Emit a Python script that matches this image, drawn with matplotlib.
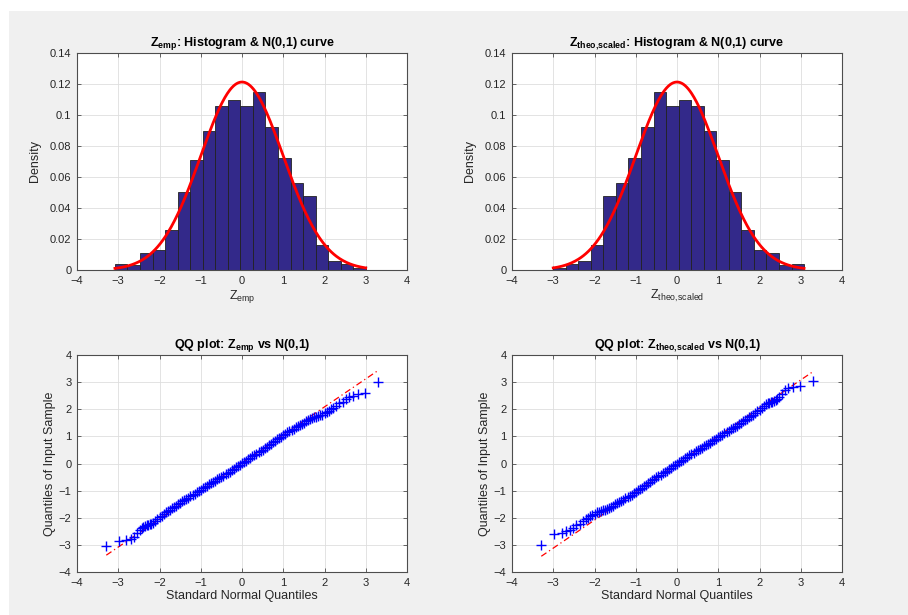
import numpy as np
import matplotlib
matplotlib.use('Agg')
import matplotlib.pyplot as plt
from matplotlib.patches import Rectangle

plt.rcParams['font.family'] = ['Liberation Sans', 'DejaVu Sans']
plt.rcParams['mathtext.fontset'] = 'custom'
plt.rcParams['mathtext.rm'] = 'Liberation Sans'
plt.rcParams['mathtext.it'] = 'Liberation Sans'
plt.rcParams['mathtext.bf'] = 'Liberation Sans:bold'

# histogramas (probabilidade por classe, 20 classes)
hist_emp_range = [-3.08, 3.00]
hist_emp = [0.004, 0.003, 0.011, 0.013, 0.026, 0.050, 0.071, 0.090, 0.106, 0.110,
            0.106, 0.115, 0.092, 0.072, 0.056, 0.048, 0.016, 0.006, 0.004, 0.001]
hist_theo_range = [-3.00, 3.08]
hist_theo = [0.001, 0.004, 0.006, 0.016, 0.048, 0.056, 0.072, 0.092, 0.115, 0.106,
             0.110, 0.106, 0.090, 0.071, 0.050, 0.026, 0.013, 0.011, 0.003, 0.004]

# QQ plot: quantis teoricos (x) e amostrais (y)
qq_emp_x = [-3.29, -2.97, -2.81, -2.70, -2.61, -2.54, -2.48, -2.43, -2.39, -2.35, -2.31, -2.27, -2.24, -2.20,
            -2.15, -2.10, -2.05, -2.00, -1.95, -1.90, -1.85, -1.80, -1.75, -1.70, -1.65, -1.60,
            -1.55, -1.50, -1.45, -1.40, -1.35, -1.30, -1.25, -1.20, -1.15, -1.10, -1.05, -1.00,
            -0.95, -0.90, -0.85, -0.80, -0.75, -0.70, -0.65, -0.60, -0.55, -0.50, -0.45, -0.40,
            -0.35, -0.30, -0.25, -0.20, -0.15, -0.10, -0.05, 0.00, 0.05, 0.10, 0.15, 0.20,
            0.25, 0.30, 0.35, 0.40, 0.45, 0.50, 0.55, 0.60, 0.65, 0.70, 0.75, 0.80,
            0.85, 0.90, 0.95, 1.00, 1.05, 1.10, 1.15, 1.20, 1.25, 1.30, 1.35, 1.40,
            1.45, 1.50, 1.55, 1.60, 1.65, 1.70, 1.75, 1.80, 1.85, 1.90, 1.95, 2.00, 2.05, 2.10, 2.15,
            2.20, 2.28, 2.36, 2.44, 2.52, 2.60, 2.68, 2.80, 2.97, 3.29]
qq_emp_y = [-3.05, -2.86, -2.83, -2.79, -2.70, -2.58, -2.45, -2.38, -2.33, -2.30, -2.28, -2.26, -2.24, -2.22,
            -2.18, -2.12, -2.06, -1.99, -1.92, -1.86, -1.80, -1.75, -1.70, -1.65, -1.60, -1.55,
            -1.50, -1.45, -1.40, -1.36, -1.31, -1.26, -1.21, -1.16, -1.11, -1.05, -1.00, -0.96,
            -0.92, -0.87, -0.82, -0.77, -0.72, -0.68, -0.63, -0.58, -0.54, -0.50, -0.45, -0.40,
            -0.35, -0.30, -0.25, -0.19, -0.14, -0.09, -0.04, 0.01, 0.06, 0.11, 0.16, 0.21,
            0.26, 0.31, 0.36, 0.41, 0.46, 0.51, 0.56, 0.62, 0.67, 0.73, 0.78, 0.84,
            0.89, 0.94, 0.99, 1.05, 1.10, 1.15, 1.19, 1.24, 1.28, 1.33, 1.37, 1.42,
            1.46, 1.51, 1.55, 1.59, 1.63, 1.67, 1.70, 1.72, 1.74, 1.77, 1.80, 1.85, 1.90, 1.95, 2.00,
            2.06, 2.12, 2.22, 2.28, 2.37, 2.44, 2.50, 2.56, 2.61, 2.99]
qq_theo_x = [-3.29, -2.97, -2.80, -2.68, -2.60, -2.52, -2.44, -2.36, -2.28, -2.20,
             -2.15, -2.10, -2.05, -2.00, -1.95, -1.90, -1.85, -1.80, -1.75, -1.70, -1.65, -1.60,
             -1.55, -1.50, -1.45, -1.40, -1.35, -1.30, -1.25, -1.20, -1.15, -1.10, -1.05, -1.00,
             -0.95, -0.90, -0.85, -0.80, -0.75, -0.70, -0.65, -0.60, -0.55, -0.50, -0.45, -0.40,
             -0.35, -0.30, -0.25, -0.20, -0.15, -0.10, -0.05, 0.00, 0.05, 0.10, 0.15, 0.20,
             0.25, 0.30, 0.35, 0.40, 0.45, 0.50, 0.55, 0.60, 0.65, 0.70, 0.75, 0.80,
             0.85, 0.90, 0.95, 1.00, 1.05, 1.10, 1.15, 1.20, 1.25, 1.30, 1.35, 1.40,
             1.45, 1.50, 1.55, 1.60, 1.65, 1.70, 1.75, 1.80, 1.85, 1.90, 1.95, 2.00, 2.05, 2.10, 2.15,
             2.20, 2.24, 2.27, 2.31, 2.35, 2.39, 2.43, 2.48, 2.54, 2.61, 2.70, 2.81, 2.97, 3.29]
qq_theo_y = [-2.99, -2.61, -2.56, -2.50, -2.44, -2.37, -2.28, -2.22, -2.12, -2.06,
             -2.00, -1.95, -1.90, -1.85, -1.80, -1.77, -1.74, -1.72, -1.70, -1.67, -1.63, -1.59,
             -1.55, -1.51, -1.46, -1.42, -1.37, -1.33, -1.28, -1.24, -1.19, -1.15, -1.10, -1.05,
             -0.99, -0.94, -0.89, -0.84, -0.78, -0.73, -0.67, -0.62, -0.56, -0.51, -0.46, -0.41,
             -0.36, -0.31, -0.26, -0.21, -0.16, -0.11, -0.06, -0.01, 0.04, 0.09, 0.14, 0.19,
             0.25, 0.30, 0.35, 0.40, 0.45, 0.50, 0.54, 0.58, 0.63, 0.68, 0.72, 0.77,
             0.82, 0.87, 0.92, 0.96, 1.00, 1.05, 1.11, 1.16, 1.21, 1.26, 1.31, 1.36,
             1.40, 1.45, 1.50, 1.55, 1.60, 1.65, 1.70, 1.75, 1.80, 1.86, 1.92, 1.99, 2.06, 2.12, 2.18,
             2.22, 2.24, 2.26, 2.28, 2.30, 2.33, 2.38, 2.45, 2.58, 2.70, 2.79, 2.83, 2.86, 3.05]
# linhas de referencia (quartis) estendidas
qq_emp_line = ([-3.29, 3.29], [-3.38, 3.42])
qq_theo_line = ([-3.29, 3.29], [-3.42, 3.38])

BAR_COLOR = '#33298a'
AX_COLOR = '#4d4d4d'
TXT_COLOR = '#262626'

fig = plt.figure(figsize=(9.08, 6.15), dpi=100, facecolor='white')
fig.add_artist(Rectangle((9 / 908, 0), 1, 1 - 11 / 615, transform=fig.transFigure,
                         facecolor='#f0f0f0', edgecolor='none', zorder=-10))

lefts = [77 / 908, 512 / 908]
bottoms = [1 - 270 / 615, 1 - 572 / 615]
w, h = 330 / 908, 217 / 615


def style(ax):
    ax.set_facecolor('white')
    ax.grid(True, color='#dedede', linewidth=0.6)
    ax.set_axisbelow(True)
    for s in ax.spines.values():
        s.set_color(AX_COLOR)
        s.set_linewidth(0.8)
    ax.tick_params(direction='in', length=3, width=0.6, top=True, right=True,
                   colors=AX_COLOR, labelsize=8, labelcolor=TXT_COLOR, pad=4)


def histo(ax, vals, rng, name):
    edges = np.linspace(rng[0], rng[1], len(vals) + 1)
    bw = edges[1] - edges[0]
    ax.bar(edges[:-1], vals, width=bw, align='edge', color=BAR_COLOR,
           edgecolor='#222222', linewidth=0.6, zorder=2)
    xs = np.linspace(rng[0], rng[1], 300)
    ax.plot(xs, bw * np.exp(-xs ** 2 / 2) / np.sqrt(2 * np.pi), color='red', lw=2, zorder=3)
    ax.set_xlim(-4, 4)
    ax.set_ylim(0, 0.14)
    ax.set_xticks(range(-4, 5))
    ax.set_yticks(np.arange(0, 0.141, 0.02))
    ax.set_yticklabels(['0', '0.02', '0.04', '0.06', '0.08', '0.1', '0.12', '0.14'])
    ax.set_title(r'$\mathbf{Z_{%s}}$: Histogram & N(0,1) curve' % name,
                 fontsize=9, fontweight='bold', pad=5)
    ax.set_xlabel(r'$\mathregular{Z_{%s}}$' % name, fontsize=9, color=TXT_COLOR, labelpad=2)
    ax.set_ylabel('Density', fontsize=9, color=TXT_COLOR, labelpad=6)
    style(ax)


def qq(ax, xs, ys, line, name):
    ax.plot(line[0], line[1], color='red', lw=0.9, dashes=(5, 2.5, 1, 2.5), zorder=2)
    ax.plot(xs, ys, '+', color='blue', ms=7, mew=1.0, zorder=3)
    ax.set_xlim(-4, 4)
    ax.set_ylim(-4, 4)
    ax.set_xticks(range(-4, 5))
    ax.set_yticks(range(-4, 5))
    ax.set_title(r'QQ plot: $\mathbf{Z_{%s}}$ vs N(0,1)' % name,
                 fontsize=9, fontweight='bold', pad=5)
    ax.set_xlabel('Standard Normal Quantiles', fontsize=9, color=TXT_COLOR, labelpad=2)
    ax.set_ylabel('Quantiles of Input Sample', fontsize=9, color=TXT_COLOR, labelpad=2)
    style(ax)


ax1 = fig.add_axes([lefts[0], bottoms[0], w, h])
histo(ax1, hist_emp, hist_emp_range, 'emp')
ax2 = fig.add_axes([lefts[1], bottoms[0], w, h])
histo(ax2, hist_theo, hist_theo_range, r'theo,\!scaled')
ax3 = fig.add_axes([lefts[0], bottoms[1], w, h])
qq(ax3, qq_emp_x, qq_emp_y, qq_emp_line, 'emp')
ax4 = fig.add_axes([lefts[1], bottoms[1], w, h])
qq(ax4, qq_theo_x, qq_theo_y, qq_theo_line, r'theo,\!scaled')

fig.savefig('out.png', dpi=100)
